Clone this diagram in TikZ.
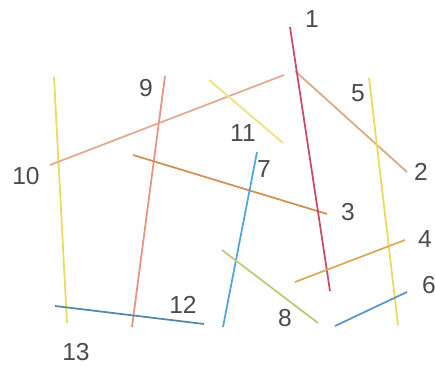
\documentclass[tikz,border=0pt]{standalone}
\usepackage{fontspec}
\setmainfont{Liberation Sans}
\definecolor{redline}{RGB}{200,75,105}
\definecolor{tanline}{RGB}{215,170,135}
\definecolor{pinkline}{RGB}{225,170,145}
\definecolor{brownline}{RGB}{208,145,85}
\definecolor{salmonline}{RGB}{228,148,128}
\definecolor{yellowline}{RGB}{238,218,90}
\definecolor{paleline}{RGB}{238,225,125}
\definecolor{blueline}{RGB}{80,165,218}
\definecolor{tealline}{RGB}{80,138,170}
\definecolor{oliveline}{RGB}{195,198,120}
\definecolor{orangeline}{RGB}{218,170,90}
\definecolor{skyline}{RGB}{90,148,205}
\definecolor{labelgray}{RGB}{75,75,75}
\tikzset{
  stick/.style={line width=1.5pt},
  num/.style={text=labelgray, font=\fontsize{21}{24}\selectfont, inner sep=0pt}
}
\begin{document}
\begin{tikzpicture}[x=0.03cm, y=-0.03cm]
\useasboundingbox (0,0) rectangle (435,367);

% the sticks: name / start / end / colour
\foreach \n/\ax/\ay/\bx/\by/\c in {
  13/54/77/67/323/yellowline,
  9/165/76/132/327/salmonline,
  10/50/165/284/75/pinkline,
  11/209/80/283/143/paleline,
  2/295/71/407/172/tanline,
  5/369/78/398/325/yellowline,
  3/133/155/327/214/brownline,
  1/290/27/330/291/redline,
  7/257/152/223/327/blueline,
  12/55/306/204/324/tealline,
  8/222/250/318/323/oliveline,
  4/295/282/405/240/orangeline,
  6/335/326/407/292/skyline}{
\coordinate (a\n) at (\ax,\ay);
\coordinate (b\n) at (\bx,\by);
\draw[stick, \c] (a\n) -- (b\n);
}

% the numbers
\node[num] (l1) at (312,19) {1};
\node[num] (l2) at (421,172) {2};
\node[num] (l3) at (348,212) {3};
\node[num] (l4) at (425,239) {4};
\node[num] (l5) at (358,93) {5};
\node[num] (l6) at (429,285) {6};
\node[num] (l7) at (264,169) {7};
\node[num] (l8) at (285,318) {8};
\node[num] (l9) at (146,88) {9};
\node[num] (l10) at (26,176) {10};
\node[num] (l11) at (243,133) {11};
\node[num] (l12) at (183,305) {12};
\node[num] (l13) at (76,352) {13};
\end{tikzpicture}
\end{document}
